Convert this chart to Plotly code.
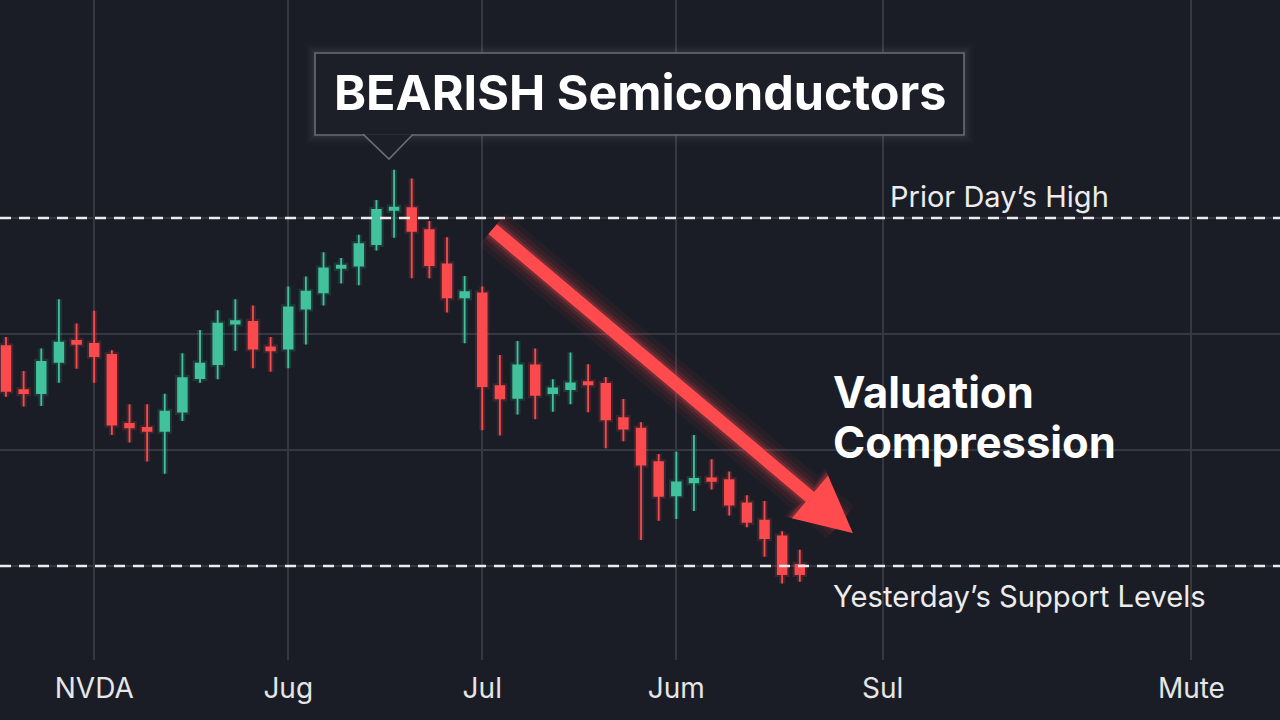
import plotly.graph_objects as go

# ---------------- data ----------------
candle_idx = list(range(46))
open_ = [197.9, 190.3, 189.8, 195.2, 198.8, 198.3, 196.4, 184.5, 183.8, 183.3,
         186.6, 192.4, 194.8, 201.8, 202.1, 197.7, 197.5, 204.4, 207.2, 211.4,
         211.8, 215.5, 221.4, 221.7, 217.9, 212.0, 206.3, 207.0, 191.0, 189.0,
         194.6, 189.8, 190.5, 191.7, 191.4, 185.5, 183.7, 177.9, 172.2, 174.4,
         175.1, 174.8, 170.8, 167.8, 165.1, 160.2]
high = [199.5, 193.6, 197.5, 206.0, 201.8, 204.0, 197.2, 187.9, 187.9, 189.7,
        196.7, 200.7, 204.1, 206.0, 204.9, 199.5, 208.2, 209.9, 214.1, 213.1,
        217.1, 223.1, 228.3, 226.8, 219.5, 216.7, 210.0, 208.2, 196.4, 198.8,
        197.5, 192.2, 196.8, 194.8, 192.6, 188.8, 184.8, 179.3, 179.7, 182.6,
        178.4, 176.3, 172.2, 171.2, 166.0, 162.8]
low = [189.2, 187.5, 187.6, 191.6, 194.0, 191.6, 182.6, 181.3, 178.0, 175.9,
       185.0, 191.6, 192.2, 197.1, 194.1, 193.5, 194.1, 198.2, 204.9, 208.7,
       208.4, 214.4, 216.6, 209.6, 209.6, 203.7, 198.4, 183.4, 182.5, 186.1,
       185.3, 186.6, 187.9, 186.5, 180.3, 181.5, 164.5, 167.8, 168.1, 169.5,
       173.2, 168.7, 166.7, 161.6, 157.0, 157.3]
close = [190.2, 189.8, 195.2, 198.5, 198.3, 196.2, 184.4, 183.9, 183.3, 186.6,
         192.4, 194.9, 201.8, 202.2, 197.5, 197.2, 204.6, 207.3, 211.3, 211.8,
         215.5, 221.4, 221.8, 217.8, 211.9, 206.3, 207.2, 191.0, 188.9, 194.6,
         189.5, 190.6, 191.5, 191.3, 185.3, 183.7, 177.5, 172.1, 174.4, 175.0,
         174.7, 170.6, 167.6, 164.8, 158.6, 158.6]

tick_positions = [5, 16, 27, 38, 49.7, 67.2]
tick_labels = ["NVDA", "Jug", "Jul", "Jum", "Sul", "Mute"]
grid_prices = [160, 180, 200, 220]

prior_day_high = 220
support_level = 160

trend_start = (27.5, 218.3)   # arrow tail (index, price)
trend_end = (48.0, 165.7)     # arrow tip (index, price)

# ---------------- styling ----------------
BG = "#1b1d26"
GRID = "#353843"
UP = "#41c29c"
DOWN = "#fa4a4e"
FONT = "Inter"

W, H = 1280, 720
MB = 60
PH = H - MB


def px(x):
    return x / W


def py(y):
    return (PH - y) / PH


fig = go.Figure()

# soft glow behind candles
fig.add_trace(go.Candlestick(
    x=candle_idx, open=open_, high=high, low=low, close=close,
    increasing=dict(line=dict(color="rgba(65,194,156,0.16)", width=6),
                    fillcolor="rgba(65,194,156,0.16)"),
    decreasing=dict(line=dict(color="rgba(250,74,78,0.16)", width=6),
                    fillcolor="rgba(250,74,78,0.16)"),
    whiskerwidth=0, showlegend=False, hoverinfo="skip"))

fig.add_trace(go.Candlestick(
    x=candle_idx, open=open_, high=high, low=low, close=close,
    increasing=dict(line=dict(color=UP, width=1.8), fillcolor=UP),
    decreasing=dict(line=dict(color=DOWN, width=1.8), fillcolor=DOWN),
    whiskerwidth=0, showlegend=False))

shapes = []
for lvl in (prior_day_high, support_level):
    shapes.append(dict(type="line", xref="paper", x0=0, x1=1, yref="y", y0=lvl, y1=lvl,
                       line=dict(color="#ececec", width=2.4, dash="11px,8px"), layer="above"))

# callout box with soft glow
bx0, bx1, by0, by1 = 315, 964, 53, 135
for pad, alpha, lw in [(7, 0.012, 6), (5, 0.02, 4), (3, 0.035, 3), (1.5, 0.06, 2)]:
    shapes.append(dict(type="rect", xref="paper", yref="paper",
                       x0=px(bx0 - pad), x1=px(bx1 + pad), y0=py(by1 + pad), y1=py(by0 - pad),
                       line=dict(color=f"rgba(255,255,255,{alpha})", width=lw),
                       fillcolor="rgba(0,0,0,0)", layer="above"))
shapes.append(dict(type="rect", xref="paper", yref="paper",
                   x0=px(bx0), x1=px(bx1), y0=py(by1), y1=py(by0),
                   line=dict(color="#6a6d76", width=1.6), fillcolor="#1c1f28", layer="above"))
ptr = f"M {px(363)},{py(134.2)} L {px(389)},{py(159)} L {px(413)},{py(134.2)}"
shapes.append(dict(type="path", xref="paper", yref="paper", path=ptr,
                   line=dict(color="#6a6d76", width=1.6), fillcolor="#1c1f28", layer="above"))

annotations = []
# trend arrow with glow layers (heads scaled to roughly the same size)
for width, color, head in [(42, "rgba(255,70,70,0.05)", 12.6),
                           (32, "rgba(255,70,70,0.07)", 12.3),
                           (24, "rgba(255,75,75,0.11)", 12.0),
                           (18, "rgba(255,80,80,0.20)", 11.7),
                           (13, "#ff4a4e", 11.2)]:
    annotations.append(dict(x=trend_end[0], y=trend_end[1], xref="x", yref="y",
                            ax=trend_start[0], ay=trend_start[1], axref="x", ayref="y",
                            text="", showarrow=True, arrowhead=2, arrowsize=head / width,
                            arrowwidth=width, arrowcolor=color, standoff=0))

annotations += [
    dict(text="BEARISH Semiconductors", x=px(639.5), y=py(93), xref="paper", yref="paper",
         showarrow=False, xanchor="center", yanchor="middle",
         font=dict(family=FONT, size=48.5, color="#ffffff", weight=700)),
    dict(text="Valuation", x=px(831), y=py(392), xref="paper", yref="paper",
         showarrow=False, xanchor="left", yanchor="middle",
         font=dict(family=FONT, size=43.5, color="#ffffff", weight=700)),
    dict(text="Compression", x=px(831), y=py(442), xref="paper", yref="paper",
         showarrow=False, xanchor="left", yanchor="middle",
         font=dict(family=FONT, size=43.5, color="#ffffff", weight=700)),
    dict(text="Prior Day’s High", x=px(888), y=py(196), xref="paper", yref="paper",
         showarrow=False, xanchor="left", yanchor="middle",
         font=dict(family=FONT, size=29, color="#ececec")),
    dict(text="Yesterday’s Support Levels", x=px(831), y=py(596), xref="paper", yref="paper",
         showarrow=False, xanchor="left", yanchor="middle",
         font=dict(family=FONT, size=29.2, color="#ececec")),
]

x_lo = -0.34
x_hi = x_lo + (W / 17.64)

fig.update_layout(
    width=W, height=H,
    margin=dict(l=0, r=0, t=0, b=MB),
    paper_bgcolor=BG, plot_bgcolor=BG,
    boxgap=0.3,
    shapes=shapes, annotations=annotations,
    xaxis=dict(range=[x_lo, x_hi], tickvals=tick_positions, ticktext=tick_labels,
               showgrid=True, gridcolor=GRID, gridwidth=1.5, zeroline=False,
               rangeslider=dict(visible=False), showline=False, ticks="",
               tickfont=dict(family=FONT, size=28, color="#e6e6e6"),
               ticklabelstandoff=9, fixedrange=True),
    yaxis=dict(range=[143.79, 257.59], tickvals=grid_prices, showticklabels=False,
               showgrid=True, gridcolor=GRID, gridwidth=1.5, zeroline=False,
               showline=False, fixedrange=True),
    hovermode=False,
)

fig.write_html("out.html", config={"displayModeBar": False},
               post_script="document.body.style.margin='0';document.body.style.background='%s';" % BG)
